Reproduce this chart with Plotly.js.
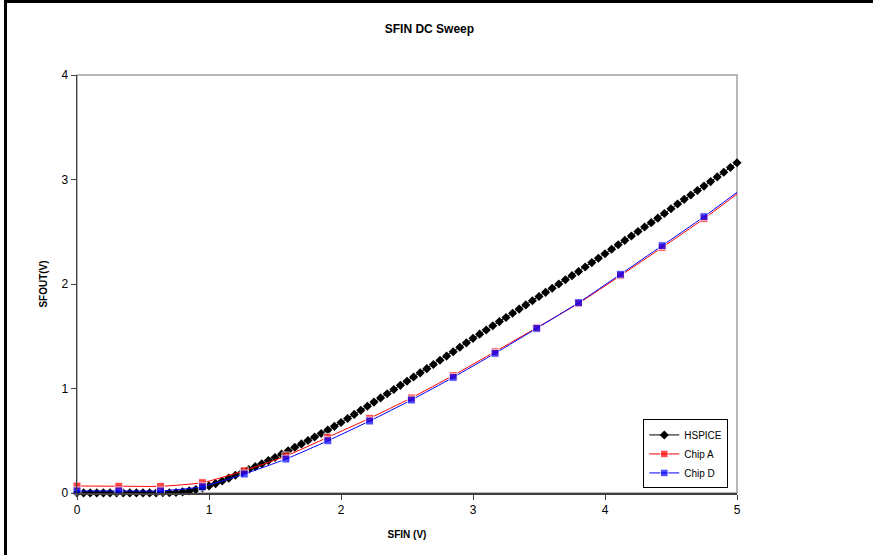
<!DOCTYPE html>
<html>
<head>
<meta charset="utf-8">
<script src="https://cdn.plot.ly/plotly-3.0.1.min.js"></script>
<style>
  html, body { margin: 0; padding: 0; background: #fff; }
  #chart { width: 873px; height: 555px; position: absolute; left: 0; top: 0; }
  #frame { position: absolute; left: 4px; top: 0; width: 869px; height: 555px;
           border-left: 3px solid #000; border-top: 3px solid #000; box-sizing: border-box; pointer-events: none; }
</style>
</head>
<body>
<div id="chart"></div>
<div id="frame"></div>
<script>
// HSPICE sweep (0.05 V step)
const hspiceX = [0.00,0.05,0.10,0.15,0.20,0.25,0.30,0.35,0.40,0.45,0.50,0.55,0.60,0.65,
  0.70,0.75,0.80,0.85,0.90,0.95,1.00,1.05,1.10,1.15,1.20,1.25,1.30,1.35,1.40,1.45,
  1.50,1.55,1.60,1.65,1.70,1.75,1.80,1.85,1.90,1.95,2.00,2.05,2.10,2.15,2.20,2.25,
  2.30,2.35,2.40,2.45,2.50,2.55,2.60,2.65,2.70,2.75,2.80,2.85,2.90,2.95,3.00,3.05,
  3.10,3.15,3.20,3.25,3.30,3.35,3.40,3.45,3.50,3.55,3.60,3.65,3.70,3.75,3.80,3.85,
  3.90,3.95,4.00,4.05,4.10,4.15,4.20,4.25,4.30,4.35,4.40,4.45,4.50,4.55,4.60,4.65,
  4.70,4.75,4.80,4.85,4.90,4.95,5.00];
const hspiceY = [0.001,0.001,0.001,0.001,0.001,0.001,0.001,0.001,0.001,0.001,0.001,0.001,0.001,0.002,
  0.003,0.005,0.011,0.020,0.033,0.049,0.068,0.090,0.115,0.142,0.170,0.198,0.225,0.252,0.280,0.310,
  0.340,0.372,0.405,0.437,0.470,0.503,0.536,0.569,0.602,0.638,0.675,0.713,0.752,0.791,0.830,0.870,
  0.910,0.950,0.990,1.030,1.070,1.110,1.150,1.190,1.230,1.270,1.310,1.352,1.395,1.437,1.480,1.520,
  1.560,1.600,1.640,1.680,1.720,1.760,1.800,1.840,1.880,1.920,1.960,2.000,2.040,2.080,2.120,2.162,
  2.205,2.247,2.290,2.332,2.375,2.417,2.460,2.502,2.545,2.587,2.630,2.675,2.720,2.765,2.810,2.852,
  2.895,2.937,2.980,3.025,3.070,3.115,3.160];

// Measured chips
const chipX = [0,0.317,0.633,0.95,1.267,1.583,1.9,2.217,2.533,2.85,3.167,3.483,3.8,4.117,4.433,4.75,5.067];
const chipA = [0.067,0.065,0.064,0.099,0.213,0.354,0.533,0.715,0.910,1.125,1.352,1.582,1.815,2.080,2.350,2.625,2.925];
const chipD = [0.020,0.020,0.020,0.060,0.182,0.325,0.500,0.689,0.890,1.107,1.337,1.576,1.821,2.093,2.367,2.644,2.940];

const xTicks = [0,1,2,3,4,5];
const yTicks = [0,1,2,3,4];

const chipMarkerSizes = chipX.map(v => v > 5 ? 0 : 8);

const traces = [
  { x: hspiceX, y: hspiceY, name: 'HSPICE', type: 'scatter', mode: 'lines+markers',
    line: { color: '#000000', width: 1 }, marker: { symbol: 'diamond', size: 7, color: '#000000' },
    cliponaxis: false },
  { x: chipX, y: chipA, name: 'Chip A', type: 'scatter', mode: 'lines+markers',
    line: { color: '#ff0000', width: 1, shape: 'spline', smoothing: 0.5 },
    marker: { symbol: 'square', size: chipMarkerSizes, color: '#ff0000' }, cliponaxis: false },
  { x: chipX, y: chipD, name: 'Chip D', type: 'scatter', mode: 'lines+markers',
    line: { color: '#0000ff', width: 1, shape: 'spline', smoothing: 0.5 },
    marker: { symbol: 'square', size: chipMarkerSizes, color: '#0000ff' }, cliponaxis: false }
];

const layout = {
  width: 873, height: 555,
  margin: { l: 77, r: 136, t: 75, b: 62 },
  paper_bgcolor: '#ffffff', plot_bgcolor: '#ffffff',
  font: { family: 'Liberation Sans, Arial, sans-serif', size: 12, color: '#000' },
  showlegend: true,
  title: { text: '<b>SFIN DC Sweep</b>', x: 0.534, xref: 'paper', xanchor: 'center',
           y: 1 - 29/555, yanchor: 'middle', font: { size: 12, color: '#000' } },
  xaxis: {
    range: [0, 5], tickvals: xTicks, ticktext: xTicks.map(String),
    showgrid: false, zeroline: false, showline: true, linecolor: '#404040', linewidth: 1.5,
    ticks: 'outside', ticklen: 5, tickcolor: '#404040', tickfont: { size: 12 },
    title: { text: '<b>SFIN (V)</b>', font: { size: 10 }, standoff: 15 }
  },
  yaxis: {
    range: [0, 4], tickvals: yTicks, ticktext: yTicks.map(String),
    showgrid: false, zeroline: false, showline: true, linecolor: '#404040', linewidth: 1.5,
    ticks: 'outside', ticklen: 5, tickcolor: '#404040', tickfont: { size: 12 },
    title: { text: '<b>SFOUT(V)</b>', font: { size: 10 }, standoff: 12 }
  },
  shapes: [
    { type: 'rect', xref: 'paper', yref: 'paper', x0: 0, x1: 1, y0: 0, y1: 1,
      line: { color: '#a0a0a0', width: 1.5 }, layer: 'below' }
  ],
  legend: {
    x: 0.858, y: 0.176, xanchor: 'left', yanchor: 'top',
    bgcolor: '#ffffff', bordercolor: '#000000', borderwidth: 1,
    font: { size: 10, color: '#000' }, tracegroupgap: 0, itemwidth: 30
  }
};

Plotly.newPlot('chart', traces, layout, { displayModeBar: false, staticPlot: true });
</script>
</body>
</html>
